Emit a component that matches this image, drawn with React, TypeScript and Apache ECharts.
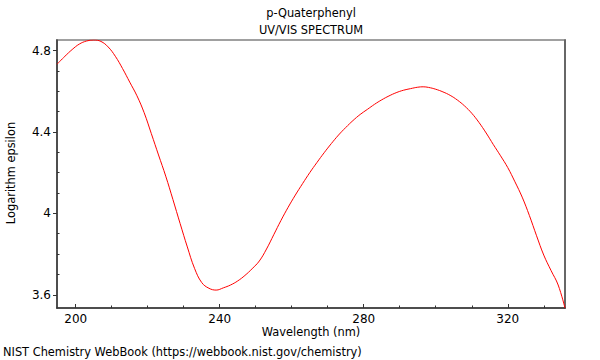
import React, { useEffect, useRef } from "react";
import * as echarts from "echarts";

const titleLines = ["p-Quaterphenyl", "UV/VIS SPECTRUM"];
const xName = "Wavelength (nm)";
const yName = "Logarithm epsilon";
const footer = "NIST Chemistry WebBook (https://webbook.nist.gov/chemistry)";

const wavelength = [
  194.8, 197, 199, 201, 203, 205, 207, 209, 211, 213, 215, 217, 219, 221, 223, 225, 227, 229,
  231, 233, 235, 237, 239, 241, 243, 245, 247, 249, 251, 253, 255, 257, 259, 261, 263, 265,
  267, 269, 271, 273, 275, 277, 279, 281, 283, 285, 287, 289, 291, 293, 295, 296.5, 298, 300,
  302, 304, 306, 308, 310, 312, 314, 316, 318, 320, 322, 324, 326, 328, 330, 332, 334, 335.9,
];
const logEpsilon = [
  4.733, 4.772, 4.805, 4.832, 4.847, 4.852, 4.845, 4.818, 4.772, 4.712, 4.645, 4.578, 4.495,
  4.392, 4.287, 4.183, 4.068, 3.95, 3.835, 3.73, 3.66, 3.632, 3.623, 3.634, 3.648, 3.668,
  3.695, 3.728, 3.766, 3.825, 3.895, 3.965, 4.03, 4.09, 4.146, 4.2, 4.25, 4.298, 4.343,
  4.385, 4.422, 4.456, 4.486, 4.511, 4.536, 4.558, 4.577, 4.593, 4.605, 4.613, 4.62, 4.622,
  4.619, 4.61, 4.597, 4.58, 4.557, 4.528, 4.492, 4.447, 4.395, 4.338, 4.283, 4.225, 4.155,
  4.08, 3.99, 3.89, 3.795, 3.72, 3.648, 3.535,
];

const xTicks = [200, 240, 280, 320];
const xMinorTicks = [210, 220, 230, 250, 260, 270, 290, 300, 310, 330];
const yTicks = [3.6, 4.0, 4.4, 4.8];
const yMinorTicks = [3.7, 3.8, 3.9, 4.1, 4.2, 4.3, 4.5, 4.6, 4.7];
const yTickLabels: Record<string, string> = { "3.6": "3.6", "4": "4", "4.4": "4.4", "4.8": "4.8" };

const X_MIN = 194.8;
const X_MAX = 335.9;
const Y_MIN = 3.535;
const Y_MAX = 4.852;

const FONT = "DejaVu Sans";
const FS = 11.4;

export default function App() {
  const ref = useRef<HTMLDivElement>(null);
  useEffect(() => {
    if (!ref.current) return;
    const chart = echarts.init(ref.current, null, { renderer: "svg" });
    const data = wavelength.map((w, i) => [w, logEpsilon[i]]);
    const txt = (text: string, x: number, y: number, align: string, rotation = 0) => ({
      type: "text",
      x,
      y,
      rotation,
      style: { text, fontSize: FS, fontFamily: FONT, fill: "#000", align, verticalAlign: "middle" },
    });
    chart.setOption({
      animation: false,
      backgroundColor: "#ffffff",
      textStyle: { fontFamily: FONT },
      grid: {
        left: 57,
        right: 35,
        top: 40,
        bottom: 52,
        show: true,
        borderColor: "#a0a0a0",
        borderWidth: 2,
        backgroundColor: "transparent",
      },
      graphic: [
        txt(titleLines[0], 311, 13, "center"),
        txt(titleLines[1], 311, 30, "center"),
        txt(xName, 311, 332, "center"),
        txt(yName, 11, 173, "center", Math.PI / 2),
        txt(footer, 3, 352, "left"),
      ],
      xAxis: [
        {
          type: "value",
          position: "bottom",
          min: X_MIN,
          max: X_MAX,
          axisLine: { show: true, onZero: false, lineStyle: { color: "#333", width: 1.5 } },
          axisTick: { show: true, inside: true, length: 4, customValues: xTicks, lineStyle: { color: "#333" } },
          axisLabel: { customValues: xTicks, margin: 5, fontSize: 12, fontFamily: FONT, color: "#000" },
          splitLine: { show: false },
        },
        {
          type: "value",
          position: "bottom",
          min: X_MIN,
          max: X_MAX,
          axisLine: { show: false, onZero: false },
          axisTick: { show: true, inside: true, length: 2.5, customValues: xMinorTicks, lineStyle: { color: "#333" } },
          axisLabel: { show: false },
          splitLine: { show: false },
        },
      ],
      yAxis: [
        {
          type: "value",
          position: "left",
          min: Y_MIN,
          max: Y_MAX,
          axisLine: { show: true, onZero: false, lineStyle: { color: "#333", width: 1.5 } },
          axisTick: { show: true, inside: false, length: 4, customValues: yTicks, lineStyle: { color: "#333" } },
          axisLabel: {
            customValues: yTicks,
            margin: 6,
            fontSize: 12,
            fontFamily: FONT,
            color: "#000",
            formatter: (v: number) => yTickLabels[String(Math.round(v * 10) / 10)] ?? String(v),
          },
          splitLine: { show: false },
        },
        {
          type: "value",
          position: "left",
          min: Y_MIN,
          max: Y_MAX,
          axisLine: { show: false, onZero: false },
          axisTick: { show: true, inside: true, length: 2.5, customValues: yMinorTicks, lineStyle: { color: "#333" } },
          axisLabel: { show: false },
          splitLine: { show: false },
        },
        {
          type: "value",
          position: "right",
          min: Y_MIN,
          max: Y_MAX,
          axisLine: { show: true, onZero: false, lineStyle: { color: "#555", width: 1.5 } },
          axisTick: { show: false },
          axisLabel: { show: false },
          splitLine: { show: false },
        },
      ],
      series: [
        {
          type: "line",
          xAxisIndex: 0,
          yAxisIndex: 0,
          data,
          showSymbol: false,
          smooth: 0.4,
          lineStyle: { color: "#ff0000", width: 1 },
          clip: true,
        },
      ],
    });
    return () => chart.dispose();
  }, []);
  return <div ref={ref} style={{ width: 600, height: 360, position: "fixed", left: 0, top: 0 }} />;
}
